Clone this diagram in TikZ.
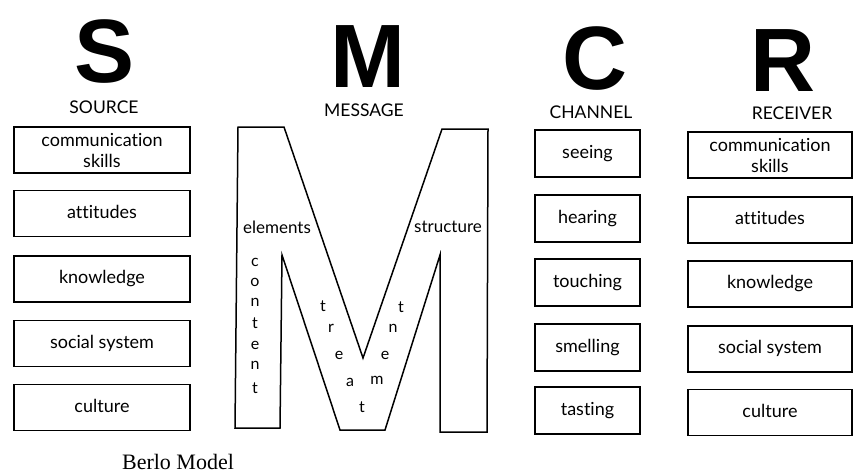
\documentclass[tikz,border=0pt]{standalone}
\usepackage{fontspec}
\setmainfont{Lato}[Ligatures=NoCommon]
\newfontfamily\bigfont{Liberation Sans}
\newfontfamily\seriffont{Liberation Serif}
\begin{document}
\begin{tikzpicture}[x=1pt,y=-1pt,
  bigletter/.style={anchor=base,inner sep=0pt,font=\bigfont\bfseries\fontsize{90}{90}\selectfont},
  colhead/.style={anchor=center,inner sep=0pt,font=\fontsize{17.5}{17.5}\selectfont},
  itembox/.style={draw,line width=1.5pt,inner sep=0pt,anchor=center,
     font=\fontsize{18}{19}\selectfont,text height=10pt,text depth=1pt},
  twoline/.style={draw,line width=1.5pt,inner sep=0pt,anchor=center,align=center,
     font=\fontsize{18}{21}\selectfont},
  srcbox/.style={minimum width=176pt,minimum height=46pt},
  chbox/.style={minimum width=105pt,minimum height=47pt},
  rcbox/.style={minimum width=164pt,minimum height=46pt},
  mtext/.style={inner sep=0pt,anchor=center,font=\fontsize{17}{17}\selectfont},
  mletter/.style={inner sep=0pt,anchor=center,font=\fontsize{16}{16}\selectfont},
  mshape/.style={draw,line width=1.5pt,line join=miter}
]
\useasboundingbox (0,0) rectangle (856,475);
% big letters
\node[bigletter] (bigS) at (105,82) {S};
\node[bigletter] (bigM) at (368,87) {M};
\node[bigletter] (bigC) at (595,89) {C};
\node[bigletter] (bigR) at (783,91) {R};
% headers
\node[colhead] (hsource) at (104,107) {SOURCE};
\node[colhead] (hmessage) at (364,110) {MESSAGE};
\node[colhead] (hchannel) at (591,112) {CHANNEL};
\node[colhead] (hreceiver) at (792,113) {RECEIVER};
% source
\node[twoline,srcbox] (s1) at (102,150) {communication\\skills};
\node[itembox,srcbox] (s2) at (102,213.5) {attitudes};
\node[itembox,srcbox] (s3) at (102,279) {knowledge};
\node[itembox,srcbox] (s4) at (102,343.5) {social system};
\node[itembox,srcbox] (s5) at (102,407.5) {culture};
% channel
\node[itembox,chbox] (c1) at (587.5,153.5) {seeing};
\node[itembox,chbox] (c2) at (587.5,218.5) {hearing};
\node[itembox,chbox] (c3) at (587.5,282.5) {touching};
\node[itembox,chbox] (c4) at (587.5,347.5) {smelling};
\node[itembox,chbox] (c5) at (587.5,410.5) {tasting};
% receiver
\node[twoline,rcbox] (r1) at (770,155) {communication\\skills};
\node[itembox,rcbox] (r2) at (770,220) {attitudes};
\node[itembox,rcbox] (r3) at (770,284) {knowledge};
\node[itembox,rcbox] (r4) at (770,349) {social system};
\node[itembox,rcbox] (r5) at (770,412.5) {culture};
% M shape
\draw[mshape] (238,127) -- (284,127) -- (363,358) -- (442,129) -- (488,129)
  -- (487,432) -- (440,432) -- (440,255) -- (385,430) -- (340,430)
  -- (282,255) -- (280,428) -- (235,428) -- cycle;
\node[mtext] (elements) at (277,227) {elements};
\node[mtext] (structure) at (448,227) {structure};
% content
\node[mletter] (c-c) at (255,262) {c};
\node[mletter] (c-o) at (255,282) {o};
\node[mletter] (c-n) at (255,302) {n};
\node[mletter] (c-t) at (255,323) {t};
\node[mletter] (c-e) at (255,345) {e};
\node[mletter] (c-n2) at (255,365) {n};
\node[mletter] (c-t2) at (255,388) {t};
% treatment
\node[mletter] (t-t) at (323,306) {t};
\node[mletter] (t-r) at (331,328) {r};
\node[mletter] (t-e) at (339,355) {e};
\node[mletter] (t-a) at (350,382) {a};
\node[mletter] (t-t2) at (362,407) {t};
\node[mletter] (t-m) at (377,380) {m};
\node[mletter] (t-e2) at (385,355) {e};
\node[mletter] (t-n) at (393,328) {n};
\node[mletter] (t-t3) at (401,307) {t};
% caption
\node[inner sep=0pt,anchor=base,font=\seriffont\fontsize{22}{22}\selectfont] (caption) at (178,469) {Berlo Model};
\end{tikzpicture}
\end{document}
